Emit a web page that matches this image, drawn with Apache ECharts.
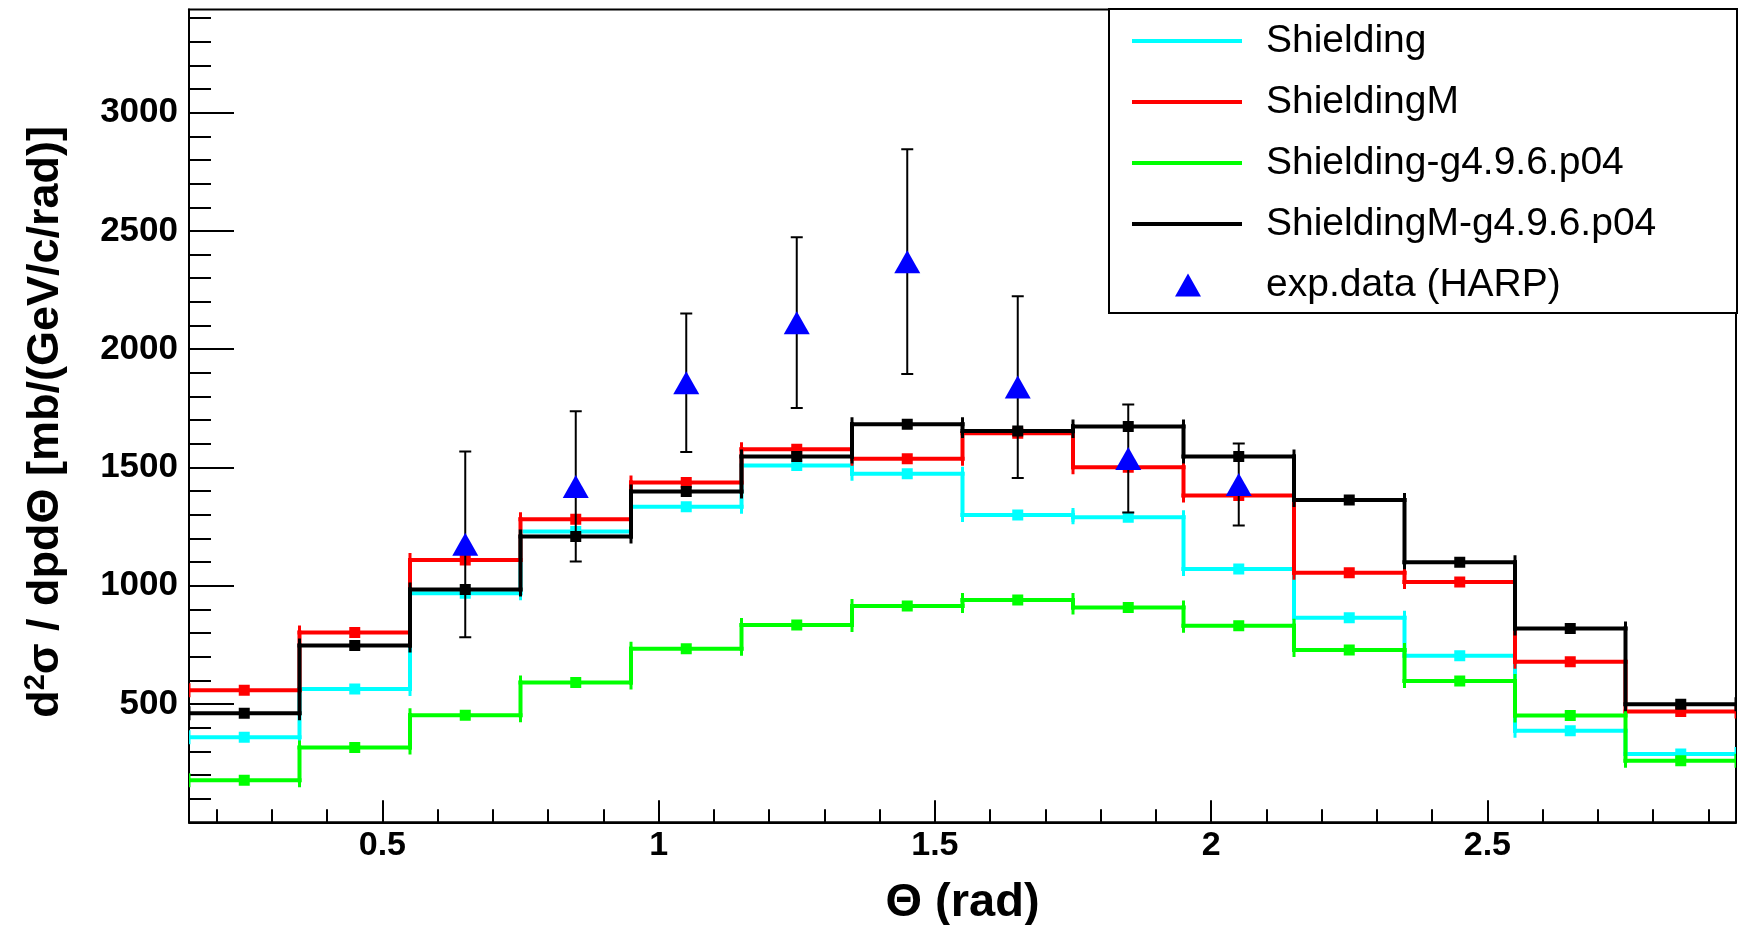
<!DOCTYPE html>
<html><head><meta charset="utf-8">
<script src="https://cdn.jsdelivr.net/npm/echarts@6/dist/echarts.min.js"></script>
<style>html,body{margin:0;padding:0;background:#fff}#c{width:1743px;height:925px}</style>
</head><body><div id="c"></div>
<script>
// ---- data ----
const binCenters = [0.25, 0.45, 0.65, 0.85, 1.05, 1.25, 1.45, 1.65, 1.85, 2.05, 2.25, 2.45, 2.65, 2.85];
const shielding      = [360, 563, 968, 1229, 1334, 1508, 1473, 1299, 1290, 1071, 865, 704, 387, 289];
const shieldingM     = [558, 802, 1109, 1281, 1436, 1577, 1537, 1645, 1501, 1381, 1055, 1016, 679, 468];
const shieldingOld   = [178, 316, 453, 591, 734, 834, 914, 940, 908, 831, 728, 597, 451, 260];
const shieldingMOld  = [461, 747, 984, 1208, 1398, 1546, 1683, 1654, 1673, 1546, 1363, 1099, 819, 499];
const expTheta  = [0.65, 0.85, 1.05, 1.25, 1.45, 1.65, 1.85, 2.05];
const expValues = [1175, 1420, 1858, 2112, 2370, 1840, 1538, 1428];
const expErrors = [393, 318, 293, 361, 475, 384, 228, 173];
const xMajorTicks = [0.5, 1, 1.5, 2, 2.5];
const yMajorTicks = [500, 1000, 1500, 2000, 2500, 3000];
const seriesNames = ['Shielding', 'ShieldingM', 'Shielding-g4.9.6.p04', 'ShieldingM-g4.9.6.p04'];
const expName = 'exp.data (HARP)';

// ---- helpers ----
const xMinorTicks = [];
for (let k = 2; k <= 29; k++) { if (k % 5 !== 0) xMinorTicks.push(k / 10); }
const yMinorTicks = [];
for (let k = 1; k <= 34; k++) { if (k % 5 !== 0) yMinorTicks.push(k * 100); }

const FONT = "'Liberation Sans', Arial, Helvetica, sans-serif";
const halfW = (binCenters[1] - binCenters[0]) / 2;

function histSeries(name, values, color) {
  const data = values.map((v, i) => [binCenters[i], v, i > 0 ? values[i - 1] : -1]);
  return {
    type: 'custom', name, data, clip: true,
    itemStyle: { color },
    encode: { x: 0, y: 1 },
    renderItem(params, api) {
      const x = api.value(0), v = api.value(1), pv = api.value(2);
      const a = api.coord([x - halfW, v]), b = api.coord([x + halfW, v]), c = api.coord([x, v]);
      const ls = { stroke: color, lineWidth: 4, lineCap: 'square' };
      const cs = { stroke: color, lineWidth: 3 };
      const ch = [];
      if (pv >= 0) {
        const p = api.coord([x - halfW, pv]);
        ch.push({ type: 'line', shape: { x1: a[0], y1: p[1], x2: a[0], y2: a[1] }, style: ls });
      }
      ch.push({ type: 'line', shape: { x1: a[0], y1: a[1], x2: b[0], y2: b[1] }, style: ls });
      ch.push({ type: 'line', shape: { x1: a[0], y1: a[1] - 7, x2: a[0], y2: a[1] + 7 }, style: cs });
      ch.push({ type: 'line', shape: { x1: b[0], y1: b[1] - 7, x2: b[0], y2: b[1] + 7 }, style: cs });
      ch.push({ type: 'rect', shape: { x: c[0] - 5.5, y: c[1] - 5.5, width: 11, height: 11 }, style: { fill: color } });
      return { type: 'group', children: ch };
    }
  };
}

const chart = echarts.init(document.getElementById('c'), null, { renderer: 'canvas' });
const tickLine = { color: '#000', width: 2 };

chart.setOption({
  animation: false,
  backgroundColor: '#fff',
  grid: { left: 189, right: 7, top: 9.5, bottom: 102.7, show: true, borderColor: '#000', borderWidth: 2, backgroundColor: 'transparent', containLabel: false, outerBoundsMode: 'none' },
  graphic: [{ type: 'rect', shape: { x: 1109, y: 9, width: 628, height: 304 }, style: { fill: '#fff', stroke: '#000', lineWidth: 2 }, z: 3 }],
  legend: [
    {
      data: seriesNames.map(n => ({ name: n, icon: 'rect' })),
      orient: 'vertical', left: 1132, top: 21, padding: 0, z: 10,
      itemWidth: 110, itemHeight: 4, itemGap: 21, selectedMode: false,
      textStyle: { fontFamily: FONT, fontSize: 39, color: '#000', lineHeight: 40, padding: [0, 0, 0, 19] }
    },
    {
      data: [{ name: expName, icon: 'triangle' }],
      orient: 'vertical', left: 1175, top: 265, padding: 0, z: 10,
      itemWidth: 26, itemHeight: 23, selectedMode: false,
      textStyle: { fontFamily: FONT, fontSize: 39, color: '#000', lineHeight: 40, padding: [0, 0, 0, 60] }
    }
  ],
  xAxis: [
    {
      type: 'value', min: 0.15, max: 2.95, position: 'bottom',
      axisLine: { show: true, onZero: false, lineStyle: tickLine },
      axisTick: { show: true, inside: true, length: 22, customValues: xMajorTicks, lineStyle: tickLine },
      axisLabel: { customValues: xMajorTicks, formatter: v => String(v), fontFamily: FONT, fontWeight: 'bold', fontSize: 34, lineHeight: 34, color: '#000', margin: 6 },
      splitLine: { show: false },
      name: 'Θ (rad)', nameLocation: 'middle', nameGap: 57,
      nameTextStyle: { fontFamily: FONT, fontWeight: 'bold', fontSize: 47, lineHeight: 47, color: '#000' }
    },
    {
      type: 'value', min: 0.15, max: 2.95, position: 'bottom',
      axisLine: { show: false },
      axisTick: { show: true, inside: true, length: 13, customValues: xMinorTicks, lineStyle: tickLine },
      axisLabel: { show: false }, splitLine: { show: false }
    }
  ],
  yAxis: [
    {
      type: 'value', min: 0, max: 3436, position: 'left',
      axisLine: { show: true, onZero: false, lineStyle: tickLine },
      axisTick: { show: true, inside: true, length: 45, customValues: yMajorTicks, lineStyle: tickLine },
      axisLabel: { customValues: yMajorTicks, formatter: v => String(v), fontFamily: FONT, fontWeight: 'bold', fontSize: 35, color: '#000', margin: 11 },
      splitLine: { show: false },
      name: '{a|d}{s|2}{b|σ / dpdΘ [mb/(GeV/c/rad)]}', nameLocation: 'middle', nameRotate: 90, nameGap: 118,
      nameTextStyle: {
        rich: {
          a: { fontFamily: FONT, fontWeight: 'bold', fontSize: 45, color: '#000', lineHeight: 50 },
          b: { fontFamily: FONT, fontWeight: 'bold', fontSize: 45, color: '#000', lineHeight: 50, padding: [0, 12, 0, 0] },
          s: { fontFamily: FONT, fontWeight: 'bold', fontSize: 29, color: '#000', lineHeight: 50, verticalAlign: 'top', padding: [0, 0, 14, 0] }
        }
      }
    },
    {
      type: 'value', min: 0, max: 3436, position: 'left',
      axisLine: { show: false },
      axisTick: { show: true, inside: true, length: 22, customValues: yMinorTicks, lineStyle: tickLine },
      axisLabel: { show: false }, splitLine: { show: false }
    }
  ],
  series: [
    histSeries(seriesNames[0], shielding, '#00ffff'),
    histSeries(seriesNames[1], shieldingM, '#ff0000'),
    histSeries(seriesNames[2], shieldingOld, '#00ff00'),
    histSeries(seriesNames[3], shieldingMOld, '#000000'),
    {
      type: 'custom', name: 'expErrors', clip: true,
      data: expTheta.map((x, i) => [x, expValues[i], expErrors[i]]),
      encode: { x: 0, y: 1 },
      renderItem(params, api) {
        const x = api.value(0), v = api.value(1), e = api.value(2);
        const t = api.coord([x, v + e]), b = api.coord([x, v - e]);
        const st = { stroke: '#000', lineWidth: 2 };
        return { type: 'group', children: [
          { type: 'line', shape: { x1: t[0], y1: t[1], x2: b[0], y2: b[1] }, style: st },
          { type: 'line', shape: { x1: t[0] - 6, y1: t[1], x2: t[0] + 6, y2: t[1] }, style: st },
          { type: 'line', shape: { x1: b[0] - 6, y1: b[1], x2: b[0] + 6, y2: b[1] }, style: st }
        ] };
      }
    },
    {
      type: 'scatter', name: expName, z: 5,
      data: expTheta.map((x, i) => [x, expValues[i]]),
      symbol: 'triangle', symbolSize: [26, 23],
      itemStyle: { color: '#0000ff', opacity: 1 }
    }
  ]
});
</script></body></html>
